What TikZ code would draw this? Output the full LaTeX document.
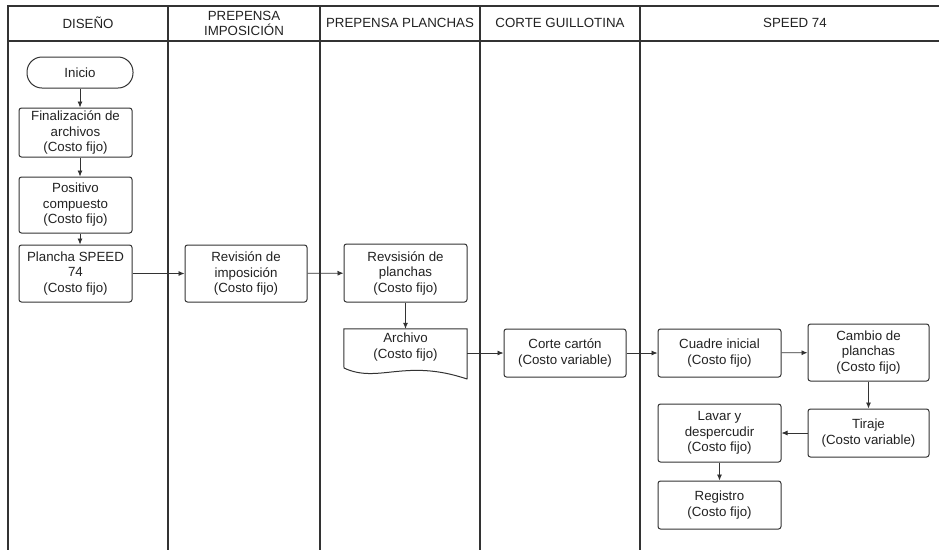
\documentclass[tikz,border=0pt]{standalone}
\usepackage{fontspec}
\setmainfont{Liberation Sans}
\usetikzlibrary{arrows.meta}
\definecolor{ink}{HTML}{333333}
\definecolor{txt}{HTML}{222222}
\begin{document}
\begin{tikzpicture}[x=1pt,y=-1pt,
  font=\fontsize{13.3}{15.5}\selectfont,
  lane/.style={draw=ink,line width=1.3pt},
  head/.style={align=center,text=txt,inner sep=0pt},
  proc/.style={draw=ink,line width=1pt,rounded corners=2.5pt,align=center,
    text=txt,inner sep=1pt,minimum width=#1},
  proc/.default=123pt,
  term/.style={draw=ink,line width=1pt,rounded corners=15pt,align=center,
    text=txt,minimum width=106pt,minimum height=31pt},
  flow/.style={draw=ink,line width=0.8pt,-{Latex[length=6pt,width=5pt]}}]

% page frame
\fill[white] (0,0) rectangle (939,550);
\useasboundingbox (0,0) rectangle (939,550);

% swimlanes
\draw[lane] (939,6) -- (8,6) -- (8,550);
\draw[lane] (8,41) -- (939,41);
\foreach \x in {168,320,480,640} \draw[lane] (\x,6) -- (\x,550);

\node[head] (hdis) at (88,23) {DISEÑO};
\node[head] (himp) at (244,23.5) {PREPENSA\\IMPOSICIÓN};
\node[head] (hpla) at (400,23) {PREPENSA PLANCHAS};
\node[head] (hcor) at (560,23) {CORTE GUILLOTINA};
\node[head] (hspd) at (795,23) {SPEED 74};

% diseño
\node[term] (inicio) at (80,72.5) {Inicio};
\node[proc=113pt,minimum height=49pt] (fin) at (75.5,132.5) {Finalización de\\archivos\\(Costo fijo)};
\node[proc=113pt,minimum height=56pt] (pos) at (75.5,205) {Positivo\\compuesto\\(Costo fijo)};
\node[proc=113pt,minimum height=57pt] (plancha) at (75.5,273.5) {Plancha SPEED\\74\\(Costo fijo)};

% prepensa
\node[proc=122pt,minimum height=57pt] (revimp) at (246,273.5) {Revisión de\\imposición\\(Costo fijo)};
\node[proc,minimum height=58pt] (revpl) at (405.5,273) {Revsisión de\\planchas\\(Costo fijo)};

% document shape
\node[align=center,text=txt,inner sep=0pt,minimum width=123pt,minimum height=36pt] (archivo) at (405.5,347) {Archivo\\(Costo fijo)};
\draw[ink,line width=1pt,line join=round]
  (archivo.north east) -- (archivo.north west) -- (344,368)
  .. controls (378,384) and (405,358) .. (467,379) -- cycle;

% corte
\node[proc=122pt,minimum height=48pt] (corte) at (565,353) {Corte cartón\\(Costo variable)};

% speed 74
\node[proc,minimum height=48pt] (cuadre) at (719.5,353) {Cuadre inicial\\(Costo fijo)};
\node[proc=121pt,minimum height=57pt] (cambio) at (868.5,352.5) {Cambio de\\planchas\\(Costo fijo)};
\node[proc=121pt,minimum height=48pt] (tiraje) at (868.5,433) {Tiraje\\(Costo variable)};
\node[proc,minimum height=58pt] (lavar) at (719.5,433) {Lavar y\\despercudir\\(Costo fijo)};
\node[proc,minimum height=48pt] (registro) at (719.5,505) {Registro\\(Costo fijo)};

% connectors
\draw[flow] (inicio.south) -- (inicio.south |- fin.north);
\draw[flow] (fin.south -| inicio) -- (pos.north -| inicio);
\draw[flow] (pos.south -| inicio) -- (plancha.north -| inicio);
\draw[flow] (plancha) -- (revimp);
\draw[flow] (revimp) -- (revpl);
\draw[flow] (revpl) -- (archivo);
\draw[flow] (archivo.east |- corte.west) -- (corte.west);
\draw[flow] (corte) -- (cuadre);
\draw[flow] (cuadre) -- (cambio);
\draw[flow] (cambio) -- (tiraje);
\draw[flow] (tiraje) -- (lavar);
\draw[flow] (lavar) -- (registro);
\end{tikzpicture}
\end{document}
